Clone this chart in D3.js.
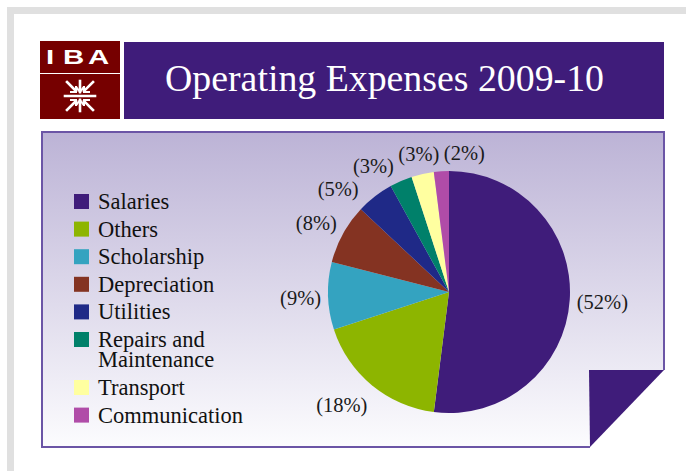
<!DOCTYPE html>
<html><head><meta charset="utf-8">
<script src="https://cdn.jsdelivr.net/npm/d3@7/dist/d3.min.js"></script>
<style>html,body{margin:0;padding:0;background:#fff;}svg{display:block;}</style>
</head><body>
<script>
const title = "Operating Expenses 2009-10";
const categories = ["Salaries","Others","Scholarship","Depreciation","Utilities","Repairs and\nMaintenance","Transport","Communication"];
const values = [52,18,9,8,5,3,3,2];
const colors = ["#3f1c7a","#8db500","#34a3c0","#843322","#1f2987","#00806a","#ffffa0","#b04ca8"];

const W=686,H=471;
const svg=d3.select("body").append("svg").attr("width",W).attr("height",H);
const serif="'Liberation Serif','Times New Roman',serif";

// outer frame
svg.append("rect").attr("width",W).attr("height",H).attr("fill","#fff");
svg.append("path").attr("d","M7,471 V7 H686 V14 H14 V471 Z").attr("fill","#e0e0e0");

// logo
svg.append("rect").attr("x",40).attr("y",41).attr("width",80).attr("height",32).attr("fill","#760000");
svg.append("rect").attr("x",40).attr("y",74).attr("width",80).attr("height",45).attr("fill","#760000");
const logoSans="'Liberation Sans',Arial,sans-serif";
[["I",46],["B",63],["A",88]].forEach(([ch,x])=>{
  svg.append("text").attr("transform",`translate(${x},64) scale(1.4,1)`)
    .attr("font-family",logoSans).attr("font-weight","bold").attr("font-size",21).attr("fill","#fff").text(ch);
});
const em=svg.append("g").attr("transform","translate(80,96)").attr("stroke","#fff").attr("stroke-width",2.6)
  .attr("fill","none").attr("stroke-linecap","square");
em.append("path").attr("d","M-15,0 H15");
[1,-1].forEach(s=>{
  em.append("path").attr("d",`M0,${-15*s} V${-4*s}`);
  em.append("path").attr("d",`M-13,${-14*s} L-4,${-5*s} M13,${-14*s} L4,${-5*s}`);
  em.append("path").attr("d",`M-9,${-4*s} H-4 V${-9*s} M9,${-4*s} H4 V${-9*s} M-3,${-8*s} L0,${-4*s} L3,${-8*s}`).attr("stroke-width",2);
});

// title band
svg.append("rect").attr("x",124).attr("y",42).attr("width",540).attr("height",77).attr("fill","#3f1c7a");
svg.append("text").attr("x",165).attr("y",91).attr("font-family",serif).attr("font-size",38)
  .attr("textLength",439).attr("lengthAdjust","spacingAndGlyphs").attr("fill","#fff").text(title);

// panel
const defs=svg.append("defs");
const gr=defs.append("linearGradient").attr("id","pg").attr("x1",0).attr("y1",0).attr("x2",0).attr("y2",1);
gr.append("stop").attr("offset","0%").attr("stop-color","#bcb3d6");
gr.append("stop").attr("offset","100%").attr("stop-color","#fcfcfe");
svg.append("path").attr("d","M42,132 H664 V370 L590,447 H42 Z").attr("fill","url(#pg)");
svg.append("path").attr("d","M590,447 H42 V132 H664 V370").attr("fill","none").attr("stroke","#6b55a6").attr("stroke-width",2);
svg.append("path").attr("d","M589,370 H664 L590,447 Z").attr("fill","#3f1c7a");

// pie
const cx=449,cy=292,r=121;
const pie=d3.pie().sort(null).value(d=>d)(values);
const arc=d3.arc().innerRadius(0).outerRadius(r);
const g=svg.append("g").attr("transform",`translate(${cx},${cy})`);
g.selectAll("path.s").data(pie).join("path").attr("class","s").attr("d",arc).attr("fill",(d,i)=>colors[i]);

// labels
const fmt=v=>`(${v}%)`;
const labs=pie.map((d,i)=>({i,phi:(d.startAngle+d.endAngle)/2}));
const lt=g.selectAll("text.l").data(labs).join("text").attr("class","l")
  .attr("font-family",serif).attr("font-size",20.5).attr("fill","#1a1a1a")
  .attr("text-anchor","middle").attr("dominant-baseline","central").text(d=>fmt(values[d.i]));
lt.each(function(d){const b=this.getBBox();d.w=b.width;d.h=19;d.ph=26;});
const R0=r+7;
const clamp=v=>Math.max(-1,Math.min(1,v));
function place(d){
  const s=Math.sin(d.phi),c=Math.cos(d.phi);
  d.x=R0*s+d.w/2*clamp(s*1.8);
  d.y=-R0*c+d.ph/2*clamp(-c*1.4);
}
labs.forEach(place);
function overlap(a,b,p){
  return Math.abs(a.x-b.x)<(a.w+b.w)/2+p && Math.abs(a.y-b.y)<(a.h+b.h)/2+p;
}
for(let it=0;it<800;it++){
  let moved=false;
  for(let k=0;k<labs.length-1;k++){
    const a=labs[k],b=labs[k+1];
    if(overlap(a,b,4)){a.phi-=0.004;b.phi+=0.004;place(a);place(b);moved=true;}
  }
  if(!moved)break;
}
lt.attr("x",d=>d.x).attr("y",d=>d.y+1);

// legend
const leg=svg.append("g");
let ly=194;
categories.forEach((c,i)=>{
  const lines=c.split("\n");
  leg.append("rect").attr("x",74).attr("y",ly).attr("width",15).attr("height",15).attr("fill",colors[i]);
  const t=leg.append("text").attr("x",98).attr("y",ly+15).attr("font-family",serif).attr("font-size",22.5).attr("fill","#111");
  lines.forEach((ln,j)=>t.append("tspan").attr("x",98).attr("dy",j?19.5:0).text(ln));
  ly+=27.6+(lines.length-1)*20.4;
});
</script>
</body></html>
